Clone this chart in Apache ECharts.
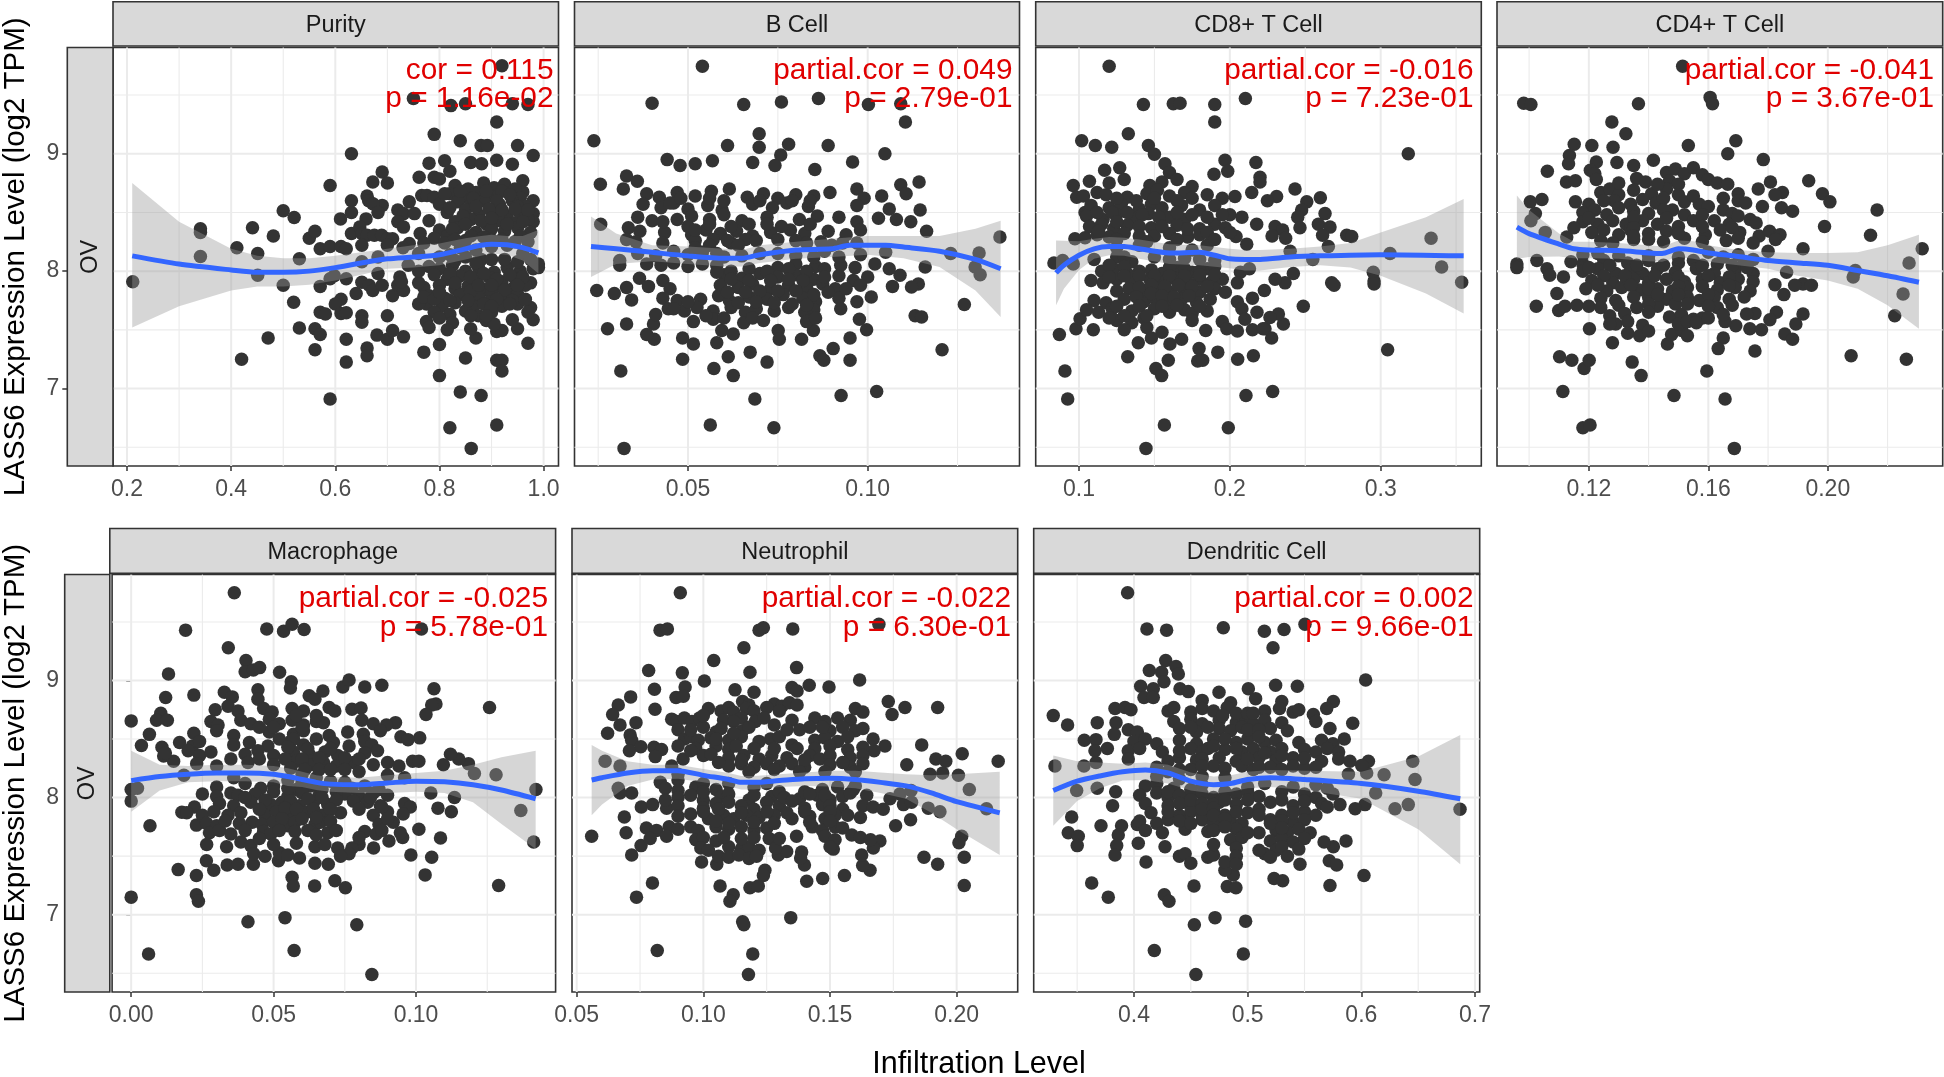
<!DOCTYPE html>
<html><head><meta charset="utf-8"><style>html,body{margin:0;padding:0;background:#fff}#c{width:1944px;height:1077px}</style>
<script src="https://cdn.jsdelivr.net/npm/echarts@6/dist/echarts.min.js"></script></head><body><div id="c"></div>
<script>
const purityPoints=[[.211,7.91],[.341,8.36],[.341,8.33],[.341,8.125],[.411,8.2],[.441,8.37],[.451,8.15],[.451,7.965],[.481,8.3],[.5,8.515],[.521,8.457],[.5,7.88],[.531,8.105],[.55,8.28],[.561,8.34],[.571,8.19],[.59,8.21],[.611,8.21],[.621,8.19],[.59,8.73],[.631,9],[.61,8.445],[.631,8.6],[.631,8.5],[.631,8.32],[.661,8.64],[.664,8.6],[.69,8.56],[.672,8.575],[.682,8.5],[.659,8.445],[.647,8.375],[.672,8.76],[.69,8.845],[.7,8.75],[.651,8.32],[.661,8.305],[.675,8.305],[.689,8.305],[.7,8.275],[.71,8.275],[.651,8.22],[.7,8.22],[.571,7.87],[.59,7.935],[.598,7.96],[.621,7.935],[.611,7.76],[.6,7.72],[.611,7.64],[.621,7.645],[.571,7.65],[.581,7.635],[.52,7.735],[.531,7.515],[.561,7.51],[.571,7.46],[.561,7.33],[.471,7.43],[.42,7.25],[.621,7.42],[.621,7.225],[.661,7.345],[.661,7.28],[.59,6.91],[.651,7.62],[.651,7.565],[.64,7.81],[.651,7.905],[.665,7.88],[.672,7.835],[.69,7.88],[.682,7.98],[.651,8.08],[.682,8.12],[.7,7.62],[.71,7.79],[.724,7.95],[.72,7.88],[.731,7.835],[.727,7.91],[.68,7.455],[.7,7.42],[.71,7.495],[.731,7.44],[.72,8.52],[.742,8.59],[.731,8.49],[.752,8.49],[.72,8.42],[.731,8.375],[.742,8.235],[.763,8.32],[.761,8.8],[.78,8.92],[.79,9.165],[.75,9.47],[.766,8.645],[.776,8.645],[.79,8.63],[.78,8.43],[.77,7.31],[.8,7.375],[.8,7.11],[.84,6.97],[.82,6.665],[.861,6.49],[.88,6.94],[.91,6.69],[.85,7.26],[.91,7.24],[.92,7.24],[.92,7.15],[.97,7.385],[.91,7.485],[.92,7.495],[.87,7.43],[.86,7.51],[.95,7.51],[.94,7.585],[.98,7.585],[.822,9.41],[.85,9.425],[.94,9.425],[.97,9.42],[.92,9.75],[.91,9.27],[.84,9.11],[.88,9.07],[.892,9.07],[.95,9.07],[.98,8.985],[.81,8.94],[.86,8.925],[.881,8.915],[.91,8.945],[.94,8.91],[.82,8.85],[.79,8.8],[.8,8.785],[.96,8.77],[.96,8.675],[.98,8.6],[.98,8.49],[.98,8.42],[.99,8.03],[.99,8.06],[.98,8.02],
[.83,8.73],[.855,8.7],[.885,8.75],[.905,8.71],[.925,8.74],[.945,8.7],[.82,8.66],[.845,8.63],[.87,8.67],[.9,8.64],[.92,8.68],[.955,8.62],[.8,8.57],[.835,8.59],[.86,8.56],[.885,8.6],[.915,8.57],[.94,8.6],[.965,8.55],[.815,8.5],[.85,8.52],[.875,8.48],[.905,8.51],[.93,8.47],[.955,8.49],[.83,8.42],[.86,8.44],[.89,8.4],[.915,8.43],[.945,8.41],[.97,8.44],[.8,8.35],[.835,8.37],[.87,8.33],[.9,8.36],[.925,8.34],[.95,8.37],[.975,8.33],[.79,8.28],[.815,8.3],[.85,8.26],[.885,8.29],[.92,8.27],[.955,8.3],[.77,8.24],[.84,8.2],[.87,8.18],[.9,8.21],[.96,8.15],[.8,8.02],[.825,8.05],[.85,8.0],[.875,8.03],[.905,7.99],[.93,8.03],[.955,8.0],[.815,7.93],[.84,7.96],[.87,7.92],[.895,7.95],[.92,7.91],[.945,7.94],[.975,7.9],[.77,7.86],[.8,7.88],[.83,7.85],[.855,7.87],[.885,7.84],[.91,7.87],[.94,7.85],[.965,7.88],[.78,7.79],[.81,7.77],[.84,7.8],[.875,7.78],[.9,7.81],[.925,7.77],[.95,7.8],[.775,7.72],[.805,7.7],[.83,7.73],[.865,7.7],[.895,7.74],[.92,7.7],[.95,7.72],[.975,7.69],[.79,7.65],[.82,7.63],[.85,7.66],[.875,7.62],[.9,7.65],[.97,7.65],[.775,7.57],[.8,7.6],[.825,7.56],[.89,7.58],[.905,7.55],[.78,7.52],[.815,7.5],[.76,7.72],[.77,7.78],[.76,7.9],[.78,8.04],[.8,8.12],[.83,8.09],[.88,8.1],
[.81,8.66],[.84,8.68],[.865,8.62],[.89,8.68],[.91,8.6],[.935,8.65],[.95,8.55],[.82,8.54],[.845,8.47],[.87,8.55],[.895,8.53],[.92,8.52],[.945,8.53],[.97,8.52],[.825,8.36],[.85,8.4],[.88,8.43],[.9,8.45],[.93,8.4],[.96,8.42],[.81,8.24],[.83,8.27],[.86,8.3],[.9,8.27],[.93,8.22],[.945,8.25],[.97,8.25],[.82,8.14],[.85,8.12],[.87,8.07],[.9,8.1],[.925,8.1],[.95,8.08],[.975,8.1],[.79,7.97],[.82,7.98],[.86,7.95],[.885,7.98],[.91,7.93],[.935,7.97],[.96,7.95],[.83,7.9],[.86,7.83],[.875,7.88],[.9,7.88],[.925,7.84],[.95,7.88],[.79,7.76],[.82,7.75],[.855,7.75],[.885,7.72],[.91,7.76],[.94,7.75],[.965,7.76],[.8,7.82],[.9,7.7],[.935,7.72],[.86,7.62],[.89,7.62],[.73,8.2],[.76,8.15],[.74,8.05],[.76,8]];
const bcellPoints=[[.054,9.745],[.04,9.43],[.0655,9.42],[.076,9.44],[.0863,9.47],[.1002,9.42],[.1092,9.425],[.1105,9.27],[.0238,9.11],[.0698,9.17],[.0698,9.055],[.061,9.07],[.078,9.08],[.089,9.07],[.1048,9],[.0958,8.93],[.0442,8.95],[.0478,8.9],[.052,8.915],[.0568,8.94],[.068,8.925],[.0758,8.99],[.0742,8.9],[.0853,8.865],[.1143,8.76],[.1092,8.735],[.1107,8.66],[.1039,8.64],[.0256,8.74],[.0329,8.81],[.032,8.7],[.0359,8.765],[.0257,8.4],[.0334,8.37],[.0366,8.34],[.0329,8.27],[.031,8.09],[.031,8.05],[.0246,7.835],[.0295,7.81],[.0329,7.86],[.0343,7.755],[.0276,7.51],[.0329,7.55],[.0313,7.15],[.0322,6.49],[.0562,6.69],[.0739,6.665],[.0686,6.91],[.0926,6.94],[.1025,6.975],[.1207,7.33],[.1269,7.715],[.1132,7.62],[.115,7.61],[.1368,8.29],[.131,8.155],[.1299,8.035],[.1313,7.97],[.1231,8.15],[.1164,8.34],[.1146,8.52],[.116,8.035],[.1141,7.89],[.1122,7.865],[.109,7.965],[.1069,7.87],[.0485,7.25],[.0572,7.17],[.0626,7.11],[.0612,7.27],[.0673,7.31],[.072,7.225],[.0867,7.28],[.0878,7.24],[.0904,7.34],[.0951,7.24],[.0951,7.43],[.0997,7.5],[.0977,7.59],[.0816,7.42],[.0751,7.495],[.0754,7.42],[.058,7.39],[.0515,7.38],[.0485,7.43],[.0406,7.42],[.0385,7.46],[.0626,7.465],[.0594,7.495],[.0404,7.55],[.041,7.63],[.0849,7.495],
[.0385,8.66],[.042,8.63],[.047,8.67],[.052,8.64],[.0565,8.68],[.0615,8.7],[.0665,8.63],[.071,8.66],[.075,8.62],[.08,8.65],[.085,8.64],[.0895,8.67],[.097,8.7],[.099,8.62],[.0375,8.57],[.0425,8.54],[.046,8.58],[.05,8.53],[.0555,8.56],[.0595,8.52],[.068,8.57],[.0735,8.54],[.0775,8.58],[.0835,8.55],[.097,8.56],[.106,8.53],[.036,8.46],[.04,8.43],[.051,8.47],[.056,8.44],[.06,8.48],[.065,8.43],[.072,8.46],[.081,8.44],[.086,8.47],[.092,8.46],[.097,8.42],[.103,8.45],[.108,8.44],[.112,8.42],[.0435,8.33],[.051,8.31],[.055,8.35],[.059,8.32],[.0635,8.34],[.068,8.3],[.073,8.33],[.0785,8.35],[.0825,8.32],[.089,8.34],[.094,8.31],[.098,8.35],[.0355,8.25],[.043,8.24],[.052,8.26],[.057,8.27],[.062,8.24],[.066,8.27],[.08,8.26],[.087,8.25],[.093,8.24],[.036,8.15],[.041,8.13],[.046,8.17],[.05,8.14],[.054,8.16],[.06,8.12],[.07,8.15],[.08,8.13],[.088,8.17],[.098,8.14],[.105,8.16],[.0385,8.06],[.0425,8.05],[.046,8.07],[.05,8.04],[.054,8.06],[.058,8.05],[.075,8.03],[.08,8.06],[.0855,8.04],[.0925,8.05],[.0965,8.03],[.102,8.06],[.106,8.02],[.0365,7.94],[.043,7.92],[.06,7.97],[.065,7.94],[.07,7.98],[.075,7.95],[.08,7.97],[.085,7.93],[.092,7.96],[.096,7.92],[.1,7.95],[.039,7.87],[.045,7.85],[.059,7.88],[.064,7.86],[.068,7.89],[.073,7.85],[.078,7.88],[.083,7.86],[.0875,7.89],[.091,7.85],[.043,7.77],[.047,7.75],[.0535,7.76],[.0585,7.79],[.0615,7.75],[.067,7.78],[.072,7.76],[.0765,7.8],[.082,7.77],[.0855,7.74],[.092,7.77],[.097,7.74],[.101,7.78],[.0445,7.68],[.049,7.66],[.0525,7.69],[.057,7.66],[.062,7.69],[.066,7.65],[.069,7.68],[.074,7.66],[.078,7.69],[.0825,7.65],[.085,7.67],[.0925,7.68],[.0515,7.57],[.057,7.59],[.0655,7.56],[.068,7.6],[.071,7.58],[.083,7.57],[.0855,7.6],
[.05,8.38],[.056,8.4],[.062,8.38],[.067,8.4],[.076,8.38],[.084,8.4],[.052,8.2],[.056,8.22],[.061,8.26],[.064,8.22],[.069,8.26],[.075,8.27],[.083,8.24],[.09,8.22],[.097,8.24],[.058,8.15],[.065,8.13],[.075,8.15],[.085,8.12],[.092,8.12],[.058,7.99],[.062,8],[.067,8.02],[.072,8],[.078,8.02],[.083,8],[.088,8.02],[.062,7.93],[.067,7.92],[.073,7.92],[.078,7.93],[.082,7.92],[.088,7.95],[.061,7.82],[.066,7.82],[.07,7.83],[.075,7.83],[.08,7.83],[.085,7.8],[.089,7.82],[.064,7.73],[.069,7.74],[.074,7.73],[.079,7.72],[.083,7.71],[.045,8.58],[.048,8.62],[.056,8.62],[.06,8.6],[.07,8.6],[.079,8.6],[.084,8.6],[.047,8.44],[.043,8.42],[.052,8.35],[.072,8.4],[.046,7.68],[.05,7.74],[.055,7.62],[.06,7.6],[.094,7.85],[.098,7.88]];
const cd8Points=[[.12,9.745],[.1427,9.42],[.1625,9.425],[.167,9.43],[.19,9.42],[.2103,9.47],[.19,9.27],[.1327,9.17],[.1018,9.11],[.1108,9.07],[.1217,9.055],[.146,9.07],[.15,8.995],[.3183,9],[.157,8.915],[.1968,8.945],[.1986,8.85],[.2173,8.925],[.1895,8.825],[.22,8.8],[.22,8.76],[.2432,8.7],[.26,8.625],[.251,8.59],[.2476,8.52],[.245,8.46],[.2465,8.37],[.2631,8.49],[.2587,8.4],[.2664,8.375],[.2615,8.305],[.2775,8.305],[.2808,8.295],[.2653,8.21],[.3334,8.28],[.3062,8.15],[.3404,8.035],[.3537,7.905],[.2951,7.99],[.2956,7.915],[.2956,7.89],[.2675,7.9],[.2691,7.88],[.2487,7.7],[.3046,7.33],[.2284,6.975],[.2107,6.94],[.199,6.665],[.1566,6.69],[.1444,6.49],[.0925,6.91],[.0907,7.15],[.087,7.46],[.098,7.51],[.1095,7.5],[.1007,7.595],[.0834,8.07],[.0892,8.09],[.0962,8.06],[.1323,7.27],[.151,7.17],[.1548,7.11],[.1592,7.24],[.1787,7.235],[.182,7.24],[.1796,7.34],[.192,7.31],[.2052,7.25],[.2156,7.28],[.2277,7.43],[.2233,7.51],[.1603,7.38],[.168,7.42],[.1393,7.39],[.0962,8.73],[.1069,8.765],[.0985,8.63],[.104,8.5],[.0973,8.275],[.104,8.285],[.184,7.495],[.2421,7.98],[.2366,7.9],[.23,7.93],[.2229,7.835],[.231,8.635],[.2249,8.6],[.2145,8.67],[.2034,8.635],[.2178,8.4],[.2112,8.23],[.2041,8.295],[.2355,7.55],[.2322,7.635],[.2266,7.605],
[.117,8.86],[.127,8.88],[.16,8.84],[.12,8.75],[.13,8.78],[.147,8.73],[.155,8.76],[.165,8.78],[.175,8.72],[.103,8.64],[.112,8.67],[.132,8.63],[.145,8.66],[.152,8.69],[.16,8.64],[.17,8.67],[.185,8.65],[.195,8.62],[.108,8.56],[.12,8.54],[.128,8.57],[.14,8.53],[.148,8.57],[.155,8.54],[.168,8.56],[.18,8.52],[.19,8.56],[.105,8.47],[.116,8.44],[.125,8.48],[.137,8.45],[.146,8.49],[.16,8.46],[.17,8.44],[.2,8.48],[.208,8.46],[.107,8.38],[.115,8.4],[.123,8.36],[.132,8.39],[.148,8.37],[.165,8.39],[.18,8.36],[.19,8.4],[.197,8.37],[.23,8.38],[.235,8.35],[.112,8.31],[.12,8.29],[.13,8.32],[.15,8.3],[.16,8.32],[.172,8.29],[.18,8.31],[.228,8.3],[.237,8.28],[.125,8.2],[.14,8.22],[.16,8.2],[.175,8.18],[.185,8.22],[.24,8.17],[.11,8.1],[.125,8.12],[.135,8.08],[.17,8.11],[.19,8.09],[.255,8.1],[.115,8],[.123,8.02],[.132,7.98],[.148,8.01],[.155,7.98],[.165,8.03],[.175,7.99],[.185,8.02],[.207,7.99],[.213,8.02],[.108,7.92],[.116,7.9],[.125,7.93],[.135,7.9],[.147,7.93],[.155,7.91],[.163,7.94],[.172,7.9],[.18,7.93],[.188,7.91],[.195,7.93],[.205,7.9],[.125,7.83],[.133,7.85],[.145,7.82],[.152,7.85],[.16,7.82],[.17,7.84],[.18,7.82],[.19,7.85],[.197,7.82],[.11,7.75],[.118,7.73],[.13,7.76],[.143,7.74],[.15,7.77],[.158,7.74],[.168,7.76],[.178,7.73],[.187,7.76],[.205,7.74],[.215,7.77],[.105,7.67],[.113,7.65],[.122,7.68],[.135,7.66],[.15,7.68],[.16,7.65],[.17,7.67],[.175,7.64],[.185,7.66],[.208,7.68],[.218,7.65],[.125,7.58],[.135,7.56],[.143,7.6],[.175,7.58],[.195,7.57],[.21,7.59],[.13,7.5],[.145,7.52],[.155,7.48],[.198,7.51],[.205,7.49],[.215,7.5],[.222,7.51],[.148,7.43],
[.118,8.65],[.125,8.62],[.138,8.6],[.15,8.62],[.165,8.6],[.175,8.62],[.112,8.5],[.122,8.5],[.132,8.5],[.142,8.48],[.153,8.46],[.165,8.5],[.175,8.48],[.185,8.46],[.195,8.48],[.113,8.34],[.125,8.42],[.14,8.38],[.155,8.38],[.172,8.36],[.185,8.33],[.2,8.33],[.125,8.27],[.14,8.3],[.145,8.25],[.165,8.27],[.19,8.27],[.13,8.12],[.15,8.12],[.16,8.1],[.18,8.1],[.12,8.05],[.13,8.04],[.14,8],[.16,8.03],[.17,8.02],[.18,8],[.19,8.04],[.12,7.95],[.13,7.96],[.14,7.96],[.15,7.96],[.16,7.96],[.17,7.96],[.18,7.97],[.19,7.97],[.14,7.86],[.148,7.88],[.157,7.87],[.166,7.88],[.175,7.87],[.185,7.87],[.138,7.78],[.148,7.81],[.155,7.79],[.163,7.78],[.173,7.79],[.125,7.7],[.14,7.7],[.155,7.7],[.165,7.71],[.18,7.7],[.12,7.6],[.13,7.62],[.145,7.62]];
const cd4Points=[[.1514,9.745],[.0982,9.43],[.1006,9.42],[.1366,9.425],[.1606,9.48],[.1614,9.425],[.1277,9.27],[.1324,9.17],[.1692,9.11],[.1533,9.07],[.1151,9.08],[.121,9.07],[.1281,9.055],[.1665,9],[.1135,8.985],[.1132,8.915],[.1061,8.85],[.1416,8.945],[.135,8.9],[.1294,8.925],[.1225,8.93],[.1784,8.95],[.1808,8.76],[.1936,8.77],[.1767,8.7],[.1848,8.67],[.1823,8.65],[.1982,8.66],[.2007,8.59],[.1781,8.55],[.1845,8.54],[.1882,8.51],[.2165,8.52],[.1989,8.38],[.2143,8.305],[.2316,8.19],[.2272,8.07],[.2252,7.805],[.2224,7.62],[.2085,7.95],[.2092,8.005],[.2078,7.28],[.2263,7.25],[.1862,7.99],[.1917,8.19],[.1823,7.885],[.1853,7.8],[.1917,7.89],[.1945,7.88],[.1889,7.88],[.1917,7.635],[.1893,7.55],[.1856,7.465],[.1882,7.42],[.1828,7.65],[.1806,7.585],[.1739,7.51],[.1778,7.5],[.1756,7.64],[.1756,7.32],[.165,7.43],[.1633,7.34],[.1595,7.15],[.1656,6.91],[.1485,6.94],[.1687,6.49],[.118,6.665],[.1204,6.69],[.1113,6.975],[.1184,7.17],[.1201,7.24],[.1143,7.24],[.1102,7.27],[.1279,7.39],[.1375,7.11],[.1345,7.225],[.1202,7.51],[.1024,7.7],[.1099,7.665],[.1093,7.81],[.1026,8.09],[.0959,8.06],[.0959,8.03],[.106,8.02],[.1069,7.965],[.1115,7.95],[.1004,8.59],[.1043,8.61],[.1021,8.49],[.1006,8.43],[.1054,8.33],[.1126,8.29],[.1463,7.38],[.1477,7.46],[.1511,7.495],[.153,7.45],[.1728,7.635],[.1692,7.535],[.1656,7.57],
[.1205,8.86],[.122,8.83],[.146,8.84],[.149,8.87],[.152,8.83],[.155,8.88],[.158,8.82],[.1125,8.76],[.1155,8.77],[.1225,8.78],[.136,8.79],[.139,8.76],[.147,8.77],[.15,8.74],[.16,8.78],[.163,8.75],[.1665,8.74],[.124,8.67],[.127,8.7],[.13,8.65],[.135,8.69],[.141,8.66],[.146,8.7],[.15,8.65],[.17,8.66],[.1155,8.59],[.12,8.57],[.1285,8.6],[.134,8.57],[.138,8.61],[.1425,8.58],[.152,8.59],[.157,8.57],[.17,8.6],[.1725,8.58],[.118,8.5],[.122,8.52],[.126,8.48],[.135,8.51],[.14,8.49],[.148,8.52],[.152,8.48],[.165,8.52],[.168,8.49],[.118,8.42],[.123,8.4],[.128,8.43],[.1325,8.4],[.138,8.43],[.143,8.4],[.162,8.43],[.167,8.4],[.174,8.44],[.176,8.41],[.121,8.33],[.125,8.35],[.13,8.31],[.134,8.35],[.14,8.32],[.146,8.34],[.159,8.31],[.164,8.35],[.1705,8.33],[.177,8.3],[.1805,8.34],[.184,8.31],[.124,8.26],[.128,8.24],[.14,8.27],[.145,8.25],[.152,8.28],[.158,8.25],[.166,8.26],[.175,8.24],[.1825,8.27],[.123,8.15],[.14,8.13],[.16,8.16],[.17,8.14],[.18,8.17],[.114,8.08],[.118,8.06],[.125,8.09],[.133,8.07],[.14,8.09],[.15,8.07],[.155,8.09],[.163,8.06],[.172,8.08],[.118,8],[.123,8.02],[.129,7.98],[.134,8.01],[.138,7.98],[.143,8.02],[.149,7.99],[.156,8.02],[.162,7.98],[.169,8.01],[.175,7.98],[.121,7.92],[.128,7.9],[.135,7.93],[.14,7.9],[.146,7.93],[.152,7.91],[.158,7.93],[.164,7.9],[.17,7.93],[.175,7.91],[.119,7.85],[.126,7.83],[.131,7.86],[.137,7.84],[.143,7.85],[.148,7.83],[.153,7.86],[.163,7.84],[.169,7.86],[.174,7.83],[.124,7.77],[.129,7.75],[.14,7.78],[.146,7.76],[.153,7.78],[.157,7.75],[.162,7.78],[.167,7.76],[.112,7.7],[.116,7.71],[.12,7.7],[.124,7.69],[.13,7.71],[.136,7.69],[.143,7.7],[.149,7.72],[.163,7.69],[.168,7.71],[.127,7.62],[.132,7.64],[.147,7.61],[.151,7.63],[.155,7.59],[.158,7.6],[.165,7.63],[.129,7.55],[.133,7.57],[.138,7.54],[.15,7.55],[.153,7.57],[.156,7.56],[.133,7.47],[.137,7.45],[.14,7.49],
[.13,8.75],[.143,8.74],[.125,8.6],[.145,8.62],[.155,8.64],[.165,8.62],[.13,8.54],[.145,8.52],[.16,8.55],[.12,8.45],[.135,8.46],[.146,8.45],[.155,8.43],[.158,8.48],[.17,8.47],[.115,8.37],[.135,8.37],[.15,8.38],[.158,8.38],[.168,8.37],[.135,8.27],[.135,8.3],[.15,8.32],[.17,8.28],[.118,8.14],[.13,8.13],[.15,8.12],[.165,8.12],[.175,8.1],[.12,8.03],[.127,8.05],[.136,8.05],[.145,8.05],[.158,8.05],[.168,8.05],[.125,7.96],[.132,7.96],[.142,7.96],[.15,7.95],[.16,7.96],[.167,7.95],[.173,8.03],[.123,7.88],[.134,7.88],[.14,7.85],[.15,7.87],[.158,7.87],[.167,7.88],[.135,7.78],[.143,7.8],[.15,7.8],[.16,7.8],[.172,7.78],[.14,7.72],[.153,7.72],[.16,7.7],[.14,7.65],[.127,7.55],[.16,7.6]];
const macroPoints=[[.0362,9.75],[.0191,9.43],[.0476,9.44],[.0535,9.42],[.0565,9.48],[.0607,9.435],[.1019,9.44],[.0341,9.28],[.0403,9.17],[.04,9.075],[.0429,9.09],[.0451,9.11],[.0131,9.055],[.0521,9.07],[.0562,8.99],[.0559,8.935],[.0121,8.855],[.022,8.875],[.0327,8.9],[.0445,8.92],[.0673,8.91],[.0743,8.945],[.0765,9.005],[.082,8.945],[.088,8.96],[.1063,8.93],[.1258,8.77],[.107,8.8],[.1055,8.79],[.1035,8.71],[0,8.655],[.0104,8.72],[.0089,8.66],[.0127,8.66],[.0064,8.54],[.0036,8.445],[0,8.07],[.0022,8.08],[0,7.97],[.0066,7.76],[0,7.15],[.0061,6.665],[.041,6.94],[.054,6.975],[.0792,6.915],[.0572,6.695],[.0845,6.49],[.129,7.25],[.1032,7.34],[.0982,7.51],[.1055,7.49],[.1086,7.655],[.1413,7.62],[.1368,7.89],[.1421,8.07],[.1281,8.195],[.1205,8.205],[.1184,8.29],[.115,8.33],[.1121,8.37],[.1096,8.28],[.1135,8],[.1124,7.88],[.1077,7.91],[.1052,8.04],[.101,7.73],[.1013,8.51],[.0988,8.31],[.101,8.31],[.0165,7.385],[.0229,7.335],[.0229,7.17],[.0236,7.115],[.029,7.38],[.0264,7.46],[.0337,7.425],[.0375,7.43],[.0429,7.43],[.0565,7.32],[.0569,7.245],[.0644,7.245],[.0715,7.29],[.0752,7.23],[.0645,7.44],[.0692,7.43],[.0517,7.46],[.0591,7.485],[.0178,7.875],[.0222,7.92],[.0229,7.765],[.0108,8.43],[.0114,8.355],[.0149,8.31],[.0851,7.57],[.0905,7.63],[.0953,7.66],[.0928,8.64],[.0896,8.62],[.0947,8.52],[.0972,8.495],[.0775,8.755],[.0807,8.765],
[.0355,8.86],[.0445,8.84],[.0625,8.87],[.0645,8.84],[.0295,8.75],[.034,8.78],[.0375,8.74],[.0465,8.76],[.0495,8.73],[.0565,8.76],[.0605,8.74],[.0695,8.77],[.0715,8.74],[.028,8.65],[.0305,8.62],[.0385,8.66],[.042,8.63],[.0485,8.67],[.052,8.63],[.0565,8.66],[.0605,8.62],[.065,8.65],[.0675,8.64],[.081,8.66],[.085,8.63],[.022,8.55],[.03,8.57],[.036,8.53],[.0485,8.56],[.057,8.54],[.0605,8.57],[.0695,8.53],[.076,8.56],[.0815,8.54],[.0875,8.57],[.017,8.47],[.0215,8.44],[.024,8.48],[.036,8.45],[.0415,8.47],[.048,8.44],[.056,8.48],[.0605,8.45],[.071,8.47],[.0765,8.44],[.082,8.48],[.0845,8.45],[.012,8.38],[.02,8.4],[.024,8.36],[.028,8.39],[.04,8.37],[.0445,8.4],[.05,8.36],[.057,8.39],[.0625,8.37],[.068,8.39],[.0725,8.36],[.082,8.38],[.0865,8.4],[.023,8.29],[.03,8.27],[.041,8.3],[.05,8.28],[.058,8.31],[.063,8.28],[.0675,8.3],[.072,8.27],[.078,8.3],[.085,8.28],[.09,8.3],[.094,8.27],[.0185,8.19],[.036,8.17],[.06,8.2],[.065,8.17],[.09,8.19],[.096,8.17],[.03,8.09],[.0455,8.08],[.05,8.1],[.058,8.07],[.063,8.1],[.0775,8.08],[.082,8.1],[.087,8.07],[.025,8.03],[.03,8.01],[.035,8.04],[.0375,8.02],[.0435,8.03],[.055,8.01],[.06,8.04],[.066,8.02],[.075,8.03],[.08,8.01],[.085,8.04],[.09,8.02],[.031,7.95],[.036,7.93],[.042,7.96],[.049,7.94],[.053,7.96],[.059,7.93],[.064,7.96],[.069,7.94],[.083,7.96],[.0875,7.93],[.096,7.95],[.098,7.92],[.0195,7.87],[.025,7.85],[.029,7.88],[.034,7.85],[.0385,7.87],[.047,7.85],[.051,7.88],[.056,7.86],[.062,7.88],[.067,7.85],[.0735,7.87],[.085,7.85],[.09,7.88],[.0955,7.86],[.0265,7.78],[.03,7.76],[.0425,7.79],[.046,7.77],[.05,7.79],[.055,7.76],[.0575,7.79],[.0645,7.77],[.0665,7.79],[.087,7.77],[.092,7.79],[.0275,7.7],[.031,7.72],[.035,7.69],[.0465,7.71],[.049,7.69],[.0575,7.71],[.069,7.7],[.082,7.71],[.086,7.69],[.0945,7.7],[.0265,7.6],[.0335,7.58],[.0385,7.62],[.042,7.59],[.058,7.61],[.0645,7.58],[.068,7.6],[.0725,7.57],[.08,7.6],[.0775,7.57],[.043,7.52],[.047,7.5],[.052,7.53],[.055,7.51],[.0765,7.52],[.0735,7.5],
[.045,8.6],[.05,8.6],[.06,8.6],[.058,8.7],[.065,8.7],[.052,8.5],[.057,8.5],[.065,8.5],[.055,8.43],[.062,8.42],[.07,8.42],[.035,8.33],[.045,8.33],[.054,8.33],[.06,8.33],[.066,8.34],[.075,8.34],[.08,8.33],[.056,8.25],[.061,8.24],[.066,8.24],[.07,8.24],[.075,8.24],[.08,8.22],[.055,8.15],[.06,8.13],[.07,8.14],[.075,8.13],[.04,8.12],[.05,8.05],[.055,8.08],[.06,8.07],[.067,8.07],[.072,8.05],[.04,8],[.047,7.98],[.056,7.97],[.062,7.99],[.067,8],[.072,7.98],[.078,7.97],[.084,8],[.045,7.9],[.054,7.91],[.058,7.9],[.064,7.9],[.07,7.9],[.08,7.9],[.088,7.92],[.033,7.8],[.038,7.78],[.053,7.82],[.06,7.82],[.065,7.83],[.07,7.8],[.09,7.82],[.04,7.72],[.052,7.72],[.062,7.72],[.065,7.68],[.072,7.72],[.08,7.66],[.05,7.6],[.045,7.65],[.088,7.72]];
const neutroPoints=[[.0909,9.75],[.0829,9.43],[.0858,9.44],[.122,9.43],[.1237,9.45],[.1353,9.44],[.1693,9.48],[.116,9.28],[.1041,9.17],[.1368,9.11],[.0784,9.085],[.0917,9.065],[.1184,9.07],[.1004,8.995],[.1617,9.005],[.1418,8.96],[.1496,8.945],[.0807,8.925],[.0928,8.945],[.0892,8.855],[.0921,8.865],[.0713,8.86],[.0664,8.79],[.0642,8.71],[.0809,8.755],[.0622,8.55],[.0671,8.62],[.0734,8.64],[.0711,8.535],[.0717,8.49],[.0753,8.435],[.0708,8.4],[.0612,8.31],[.0671,8.27],[.0559,7.67],[.0695,7.7],[.0688,7.835],[.0717,8.04],[.0664,8.08],[.0671,8.04],[.0754,7.59],[.0717,7.51],[.0799,7.27],[.0736,7.15],[.0818,6.695],[.1155,6.94],[.116,6.915],[.1345,6.975],[.1195,6.665],[.1178,6.49],[.203,7.25],[.203,7.49],[.1925,7.43],[.1871,7.49],[.202,7.67],[.2009,7.615],[.1818,7.81],[.1759,7.76],[.2164,8.31],[.2022,8.375],[.1862,8.45],[.1918,8.33],[.1957,8.31],[.2007,8.19],[.1945,8.21],[.1895,8.2],[.205,8.07],[.2118,7.905],[.1934,7.88],[.1888,7.91],[.1803,8.28],[.1925,8.77],[.1796,8.77],[.173,8.82],[.1745,8.71],[.1717,8.44],[.1674,8.4],[.182,8.06],[.1776,8.03],[.1737,7.99],[.179,7.94],[.1822,7.96],[.1658,7.38],[.1629,7.42],[.1625,7.51],[.1557,7.335],[.1471,7.31],[.1408,7.285],[.1399,7.425],[.1388,7.535],[.1384,7.485],[.1066,7.245],[.1118,7.17],[.1105,7.115],[.1184,7.23],[.1217,7.245],[.1243,7.38],[.1237,7.335],[.0993,7.45],[.1053,7.43],[.1697,7.63],[.1671,7.57],[.1296,7.51],[.1329,7.54],[.1592,8.07],[.1645,8.02],[.1368,7.67],[.1513,7.56],[.1586,7.68],
[.1155,8.82],[.118,8.79],[.128,8.8],[.131,8.78],[.134,8.81],[.137,8.79],[.1125,8.92],[.12,8.9],[.135,8.94],[.137,8.91],[.102,8.76],[.107,8.74],[.11,8.77],[.112,8.73],[.117,8.76],[.12,8.74],[.125,8.77],[.13,8.74],[.16,8.76],[.163,8.73],[.0875,8.67],[.0895,8.65],[.0925,8.68],[.0955,8.65],[.0985,8.68],[.108,8.66],[.115,8.68],[.1205,8.65],[.124,8.68],[.135,8.66],[.144,8.68],[.148,8.65],[.153,8.68],[.158,8.66],[.09,8.58],[.1,8.6],[.105,8.56],[.107,8.59],[.1155,8.57],[.118,8.6],[.138,8.58],[.142,8.6],[.15,8.57],[.155,8.6],[.16,8.57],[.163,8.59],[.0925,8.5],[.095,8.52],[.098,8.49],[.103,8.51],[.11,8.49],[.115,8.52],[.1265,8.5],[.13,8.52],[.144,8.49],[.148,8.51],[.153,8.48],[.157,8.52],[.167,8.5],[.0805,8.43],[.0835,8.41],[.09,8.44],[.097,8.42],[.105,8.44],[.11,8.41],[.113,8.44],[.144,8.42],[.15,8.44],[.157,8.41],[.163,8.43],[.081,8.35],[.092,8.33],[.1,8.36],[.11,8.34],[.116,8.36],[.122,8.33],[.127,8.36],[.133,8.34],[.142,8.36],[.146,8.33],[.15,8.36],[.158,8.34],[.163,8.36],[.11,8.27],[.115,8.29],[.12,8.26],[.125,8.29],[.13,8.27],[.135,8.29],[.14,8.26],[.15,8.28],[.158,8.26],[.163,8.29],[.0875,8.27],[.083,8.13],[.09,8.15],[.11,8.12],[.085,8.08],[.09,8.06],[.097,8.09],[.105,8.07],[.12,8.09],[.147,8.07],[.153,8.09],[.09,8],[.095,8.02],[.1,7.98],[.107,8.01],[.118,7.98],[.127,8.01],[.138,7.99],[.145,8.02],[.15,7.98],[.155,8.01],[.0755,7.92],[.08,7.94],[.0855,7.91],[.09,7.93],[.1,7.91],[.115,7.93],[.12,7.9],[.13,7.93],[.14,7.91],[.147,7.94],[.155,7.9],[.163,7.93],[.167,7.92],[.171,7.9],[.09,7.84],[.102,7.82],[.108,7.85],[.112,7.82],[.117,7.85],[.122,7.83],[.128,7.85],[.135,7.82],[.142,7.84],[.148,7.82],[.152,7.85],[.162,7.83],[.0775,7.74],[.0815,7.72],[.0865,7.75],[.09,7.73],[.095,7.75],[.098,7.72],[.105,7.75],[.11,7.73],[.115,7.75],[.12,7.72],[.125,7.74],[.143,7.75],[.147,7.72],[.152,7.75],[.079,7.65],[.0855,7.67],[.097,7.64],[.1,7.66],[.105,7.63],[.126,7.65],[.148,7.67],[.152,7.64],[.162,7.66],[.166,7.64],[.099,7.57],[.102,7.55],[.11,7.58],[.115,7.56],[.118,7.58],[.122,7.55],[.1285,7.57],[.15,7.58],[.106,7.5],[.11,7.49],[.114,7.51],[.118,7.48],[.121,7.5],
[.1,8.7],[.112,8.65],[.128,8.62],[.133,8.58],[.147,8.6],[.095,8.58],[.112,8.55],[.122,8.48],[.135,8.45],[.105,8.5],[.12,8.42],[.128,8.42],[.137,8.42],[.095,8.4],[.103,8.37],[.106,8.3],[.115,8.32],[.14,8.32],[.155,8.3],[.118,8.22],[.128,8.24],[.138,8.22],[.148,8.22],[.16,8.22],[.09,8.2],[.1,8.12],[.125,8.12],[.13,8.05],[.14,8.05],[.16,8.1],[.1,8.05],[.11,8.03],[.12,8.02],[.132,8],[.142,8.03],[.148,8.02],[.158,8.04],[.085,7.98],[.105,7.95],[.11,7.96],[.125,7.96],[.135,7.97],[.15,7.93],[.095,7.86],[.1,7.88],[.106,7.9],[.115,7.87],[.125,7.88],[.133,7.87],[.14,7.88],[.15,7.88],[.157,7.85],[.105,7.8],[.11,7.78],[.12,7.79],[.128,7.78],[.142,7.79],[.15,7.8],[.155,7.74],[.108,7.66],[.115,7.65],[.12,7.66],[.13,7.65]];
const dendPoints=[[.3944,9.75],[.4114,9.44],[.4287,9.43],[.4786,9.45],[.5147,9.42],[.532,9.435],[.5504,9.48],[.5223,9.28],[.4279,9.17],[.437,9.12],[.439,9.055],[.4135,9.085],[.4243,9.07],[.4264,8.99],[.4059,8.95],[.4088,8.855],[.417,8.93],[.417,8.855],[.6038,9.005],[.5246,8.96],[.5437,8.95],[.5006,8.93],[.507,8.845],[.4748,8.9],[.4405,8.93],[.4478,8.905],[.329,8.7],[.3416,8.62],[.3677,8.64],[.3833,8.76],[.3921,8.77],[.3974,8.75],[.3842,8.64],[.3827,8.54],[.3563,8.49],[.3666,8.495],[.3657,8.4],[.3766,8.42],[.3305,8.27],[.356,8.27],[.3666,8.3],[.3677,8.08],[.3496,8.06],[.3839,8.05],[.3812,7.93],[.3452,7.835],[.371,7.76],[.3422,7.7],[.351,7.67],[.3501,7.59],[.3891,7.76],[.3862,7.68],[.3848,7.59],[.3833,7.51],[.4029,7.77],[.4038,7.61],[.4273,7.58],[.4106,7.45],[.3628,7.27],[.3774,7.15],[.4267,7.17],[.4308,7.115],[.4528,7.245],[.4531,6.915],[.4713,6.975],[.4982,6.945],[.4179,6.695],[.4962,6.665],[.4545,6.49],[.4821,7.24],[.4897,7.23],[.4874,7.34],[.48,7.38],[.5232,7.31],[.5308,7.29],[.5724,7.25],[.6023,7.335],[.5718,7.46],[.5783,7.425],[.546,7.43],[.5865,7.63],[.5754,7.58],[.5672,7.62],[.6868,7.9],[.6472,8.155],[.6452,8.31],[.6413,7.94],[.6296,7.905],[.62,8.195],[.6126,8.04],[.6032,7.94],[.5945,7.905],[.6047,8.21],[.6062,8.31],[.6003,8.275],[.5886,8.2],[.5924,8.635],[.5754,8.82],[.5695,8.76],[.5724,8.59],[.5578,8.71],[.56,8.65],[.5812,7.94],
[.46,8.83],[.485,8.81],[.53,8.82],[.43,8.74],[.435,8.77],[.45,8.73],[.46,8.76],[.47,8.74],[.482,8.77],[.515,8.74],[.528,8.76],[.54,8.73],[.545,8.75],[.435,8.65],[.45,8.67],[.46,8.63],[.475,8.66],[.49,8.64],[.497,8.67],[.505,8.63],[.515,8.66],[.53,8.64],[.395,8.58],[.403,8.56],[.44,8.59],[.455,8.56],[.475,8.59],[.485,8.57],[.495,8.6],[.505,8.56],[.52,8.59],[.535,8.57],[.4,8.48],[.41,8.5],[.42,8.46],[.44,8.49],[.455,8.46],[.47,8.5],[.49,8.47],[.5,8.5],[.515,8.47],[.525,8.49],[.545,8.47],[.565,8.49],[.575,8.46],[.585,8.5],[.395,8.4],[.405,8.42],[.425,8.39],[.45,8.42],[.46,8.39],[.48,8.41],[.495,8.39],[.505,8.42],[.52,8.39],[.55,8.41],[.56,8.39],[.57,8.42],[.58,8.39],[.395,8.33],[.43,8.31],[.44,8.34],[.455,8.32],[.475,8.34],[.49,8.31],[.51,8.34],[.525,8.32],[.54,8.34],[.565,8.31],[.58,8.33],[.59,8.31],[.42,8.26],[.44,8.24],[.47,8.27],[.48,8.25],[.495,8.27],[.505,8.24],[.52,8.26],[.53,8.24],[.54,8.27],[.55,8.25],[.41,8.1],[.42,8.12],[.435,8.08],[.46,8.11],[.5,8.09],[.515,8.12],[.54,8.09],[.56,8.11],[.57,8.08],[.405,8.02],[.42,8.04],[.43,8],[.45,8.03],[.47,8],[.49,8.03],[.51,8.01],[.55,8.03],[.56,8],[.575,8.03],[.41,7.95],[.43,7.93],[.445,7.96],[.455,7.93],[.475,7.96],[.49,7.94],[.52,7.96],[.54,7.93],[.565,7.95],[.57,7.92],[.415,7.87],[.44,7.85],[.45,7.88],[.46,7.86],[.47,7.88],[.48,7.85],[.5,7.87],[.53,7.85],[.55,7.88],[.56,7.85],[.405,7.8],[.42,7.78],[.43,7.81],[.445,7.79],[.46,7.81],[.47,7.78],[.485,7.8],[.495,7.78],[.52,7.81],[.54,7.79],[.55,7.81],[.41,7.72],[.425,7.7],[.445,7.73],[.465,7.71],[.49,7.73],[.51,7.7],[.525,7.72],[.535,7.7],[.545,7.73],[.555,7.7],[.485,7.64],[.495,7.66],[.52,7.63],[.53,7.65],[.54,7.62],[.55,7.65],[.49,7.57],[.525,7.55],[.53,7.58],[.545,7.56],[.44,7.5],[.445,7.52],[.465,7.49],[.47,7.51],[.49,7.5],[.515,7.52],[.52,7.49],[.535,7.5],[.45,7.44],[.48,7.45],[.49,7.43],
[.49,8.72],[.5,8.72],[.505,8.72],[.478,8.7],[.45,8.6],[.465,8.6],[.5,8.58],[.51,8.58],[.48,8.5],[.51,8.52],[.465,8.42],[.47,8.44],[.49,8.42],[.53,8.42],[.44,8.4],[.46,8.33],[.5,8.33],[.515,8.38],[.53,8.36],[.55,8.34],[.43,8.22],[.45,8.24],[.46,8.27],[.51,8.26],[.56,8.26],[.42,8.18],[.44,8.16],[.46,8.18],[.48,8.17],[.43,8.05],[.44,8.02],[.45,8.07],[.46,8.03],[.48,8.05],[.5,8.05],[.53,8.05],[.44,7.95],[.45,7.98],[.46,7.95],[.47,7.94],[.48,7.98],[.5,7.98],[.53,7.98],[.55,7.97],[.43,7.88],[.46,7.9],[.47,7.91],[.49,7.88],[.51,7.9],[.54,7.87],[.44,7.8],[.45,7.78],[.47,7.85],[.48,7.82],[.51,7.85],[.53,7.8],[.47,7.72],[.48,7.75],[.5,7.7],[.52,7.78],[.53,7.74],[.47,7.6],[.51,7.55]];
const puritySmooth=[[.21,8.13],[.3,8.06],[.4,8.01],[.45,7.99],[.5,7.99],[.55,8],[.6,8.03],[.65,8.07],[.7,8.105],[.75,8.12],[.8,8.14],[.85,8.19],[.88,8.22],[.9,8.23],[.93,8.225],[.96,8.2],[.99,8.155]];
const purityUpper=[[.21,8.75],[.3,8.42],[.4,8.19],[.45,8.13],[.5,8.11],[.55,8.11],[.6,8.13],[.65,8.16],[.7,8.19],[.75,8.22],[.8,8.235],[.85,8.28],[.88,8.3],[.9,8.31],[.93,8.3],[.96,8.3],[.99,8.35]];
const purityLower=[[.21,7.52],[.3,7.7],[.4,7.835],[.45,7.87],[.5,7.87],[.55,7.885],[.6,7.92],[.65,7.97],[.7,8.02],[.75,8.03],[.8,8.05],[.85,8.1],[.88,8.13],[.9,8.15],[.93,8.14],[.96,8.09],[.99,7.98]];
const bcellSmooth=[[.023,8.21],[.03,8.19],[.04,8.16],[.05,8.13],[.06,8.11],[.065,8.11],[.07,8.14],[.08,8.18],[.09,8.19],[.095,8.22],[.105,8.22],[.11,8.205],[.12,8.17],[.13,8.1],[.137,8.02]];
const bcellUpper=[[.023,8.465],[.03,8.32],[.04,8.22],[.05,8.21],[.06,8.19],[.065,8.18],[.07,8.22],[.08,8.25],[.09,8.275],[.1,8.3],[.11,8.3],[.12,8.3],[.13,8.36],[.137,8.43]];
const bcellLower=[[.023,7.95],[.03,8.06],[.04,8.085],[.05,8.06],[.06,8.04],[.065,8.04],[.07,8.07],[.08,8.105],[.09,8.12],[.1,8.14],[.11,8.11],[.12,8.035],[.13,7.835],[.137,7.61]];
const cd8Smooth=[[.0848,7.985],[.09,8.05],[.1,8.135],[.11,8.19],[.12,8.21],[.13,8.21],[.14,8.19],[.16,8.155],[.18,8.16],[.19,8.135],[.2,8.105],[.21,8.1],[.22,8.1],[.24,8.12],[.26,8.13],[.3,8.14],[.355,8.13]];
const cd8Upper=[[.0848,8.26],[.1,8.255],[.11,8.275],[.12,8.29],[.13,8.285],[.14,8.27],[.16,8.23],[.18,8.22],[.2,8.19],[.21,8.18],[.22,8.18],[.24,8.19],[.26,8.21],[.28,8.24],[.3,8.33],[.33,8.46],[.355,8.615]];
const cd8Lower=[[.0848,7.71],[.09,7.85],[.1,8.01],[.11,8.105],[.12,8.135],[.13,8.13],[.14,8.105],[.16,8.06],[.18,8.05],[.2,8.025],[.21,8.005],[.22,8.005],[.24,8.035],[.26,8.05],[.28,8.03],[.3,7.96],[.33,7.81],[.355,7.64]];
const cd4Smooth=[[.0959,8.375],[.1,8.32],[.11,8.23],[.115,8.19],[.12,8.18],[.13,8.175],[.14,8.155],[.1445,8.15],[.15,8.19],[.155,8.18],[.16,8.155],[.17,8.125],[.18,8.09],[.19,8.07],[.2,8.05],[.21,8.005],[.22,7.96],[.2305,7.905]];
const cd4Upper=[[.0959,8.645],[.1,8.52],[.11,8.32],[.115,8.25],[.12,8.25],[.13,8.24],[.14,8.22],[.1445,8.21],[.15,8.26],[.155,8.255],[.16,8.22],[.17,8.18],[.18,8.16],[.19,8.155],[.2,8.155],[.21,8.16],[.22,8.22],[.2305,8.31]];
const cd4Lower=[[.0959,8.105],[.1,8.12],[.11,8.125],[.115,8.11],[.12,8.11],[.13,8.105],[.14,8.085],[.1445,8.08],[.15,8.12],[.155,8.105],[.16,8.08],[.17,8.05],[.18,8.02],[.19,7.96],[.2,7.92],[.21,7.85],[.22,7.71],[.2305,7.51]];
const macroSmooth=[[0,8.145],[.01,8.18],[.02,8.2],[.03,8.21],[.04,8.21],[.05,8.2],[.055,8.18],[.06,8.155],[.065,8.13],[.07,8.115],[.08,8.11],[.09,8.125],[.1,8.14],[.11,8.135],[.12,8.11],[.13,8.065],[.142,7.99]];
const macroUpper=[[0,8.4],[.01,8.28],[.02,8.27],[.03,8.28],[.04,8.28],[.05,8.27],[.055,8.25],[.06,8.22],[.065,8.19],[.07,8.175],[.08,8.17],[.09,8.19],[.1,8.21],[.11,8.23],[.12,8.28],[.13,8.345],[.142,8.4]];
const macroLower=[[0,7.88],[.01,8.06],[.02,8.13],[.03,8.14],[.04,8.14],[.05,8.13],[.055,8.1],[.06,8.09],[.065,8.065],[.07,8.05],[.08,8.04],[.09,8.04],[.1,8.05],[.11,8.04],[.12,7.96],[.13,7.775],[.142,7.56]];
const neutroSmooth=[[.0559,8.15],[.06,8.17],[.07,8.21],[.08,8.23],[.09,8.23],[.1,8.19],[.11,8.155],[.115,8.13],[.12,8.13],[.13,8.145],[.14,8.16],[.15,8.165],[.16,8.155],[.17,8.13],[.18,8.1],[.19,8.04],[.2,7.965],[.217,7.87]];
const neutroUpper=[[.0559,8.45],[.06,8.4],[.07,8.31],[.08,8.28],[.09,8.28],[.1,8.245],[.11,8.21],[.115,8.185],[.12,8.185],[.13,8.2],[.14,8.215],[.15,8.23],[.16,8.23],[.17,8.215],[.18,8.2],[.19,8.19],[.2,8.2],[.217,8.22]];
const neutroLower=[[.0559,7.85],[.06,7.94],[.07,8.1],[.08,8.155],[.09,8.16],[.1,8.13],[.11,8.095],[.115,8.07],[.12,8.07],[.13,8.09],[.14,8.1],[.15,8.095],[.16,8.08],[.17,8.04],[.18,7.99],[.19,7.87],[.2,7.73],[.217,7.51]];
const dendSmooth=[[.329,8.06],[.35,8.14],[.37,8.185],[.39,8.22],[.41,8.235],[.43,8.21],[.45,8.14],[.47,8.11],[.485,8.12],[.5,8.155],[.52,8.17],[.55,8.155],[.6,8.12],[.65,8.055],[.687,7.99]];
const dendUpper=[[.329,8.36],[.35,8.31],[.37,8.3],[.39,8.29],[.41,8.3],[.43,8.28],[.45,8.215],[.47,8.18],[.485,8.19],[.5,8.22],[.52,8.235],[.55,8.23],[.6,8.22],[.65,8.35],[.687,8.535]];
const dendLower=[[.329,7.76],[.35,7.97],[.37,8.08],[.39,8.145],[.41,8.15],[.43,8.12],[.45,8.06],[.47,8.035],[.485,8.05],[.5,8.08],[.52,8.09],[.55,8.065],[.6,7.99],[.65,7.73],[.687,7.43]];
const yTicks=[7,8,9], yMinor=[6.5,7.5,8.5,9.5], yRange=[6.34,9.905];
const yTitle='LASS6 Expression Level (log2 TPM)', xTitle='Infiltration Level', facet='OV';
const panels=[
{name:'Purity',pts:purityPoints,sm:puritySmooth,up:purityUpper,lo:purityLower,ticks:[.2,.4,.6,.8,1],minor:[.3,.5,.7,.9],dec:1,note:['cor = 0.115','p = 1.16e-02'],box:[113,558.5,47.5,466],xr:[.1731,1.0286],noteR:553.5,first:true},
{name:'B Cell',pts:bcellPoints,sm:bcellSmooth,up:bcellUpper,lo:bcellLower,ticks:[.05,.1],minor:[.025,.075,.125],dec:2,note:['partial.cor = 0.049','p = 2.79e-01'],box:[574.5,1019.5,47.5,466],xr:[.01841,.14225],noteR:1012.5},
{name:'CD8+ T Cell',pts:cd8Points,sm:cd8Smooth,up:cd8Upper,lo:cd8Lower,ticks:[.1,.2,.3],minor:[.15,.25,.35],dec:1,note:['partial.cor = -0.016','p = 7.23e-01'],box:[1035.7,1481.3,47.5,466],xr:[.0713,.3667],noteR:1473.5},
{name:'CD4+ T Cell',pts:cd4Points,sm:cd4Smooth,up:cd4Upper,lo:cd4Lower,ticks:[.12,.16,.2],minor:[.1,.14,.18,.22],dec:2,note:['partial.cor = -0.041','p = 3.67e-01'],box:[1497,1942.7,47.5,466],xr:[.08925,.23846],noteR:1934},
{name:'Macrophage',pts:macroPoints,sm:macroSmooth,up:macroUpper,lo:macroLower,ticks:[0,.05,.1],minor:[.025,.075,.125],dec:2,note:['partial.cor = -0.025','p = 5.78e-01'],box:[109.8,555.6,574.5,992],xr:[-.0067,.149],noteR:548,first:true},
{name:'Neutrophil',pts:neutroPoints,sm:neutroSmooth,up:neutroUpper,lo:neutroLower,ticks:[.05,.1,.15,.2],minor:[.075,.125,.175],dec:2,note:['partial.cor = -0.022','p = 6.30e-01'],box:[572,1017.7,574.5,992],xr:[.04814,.2241],noteR:1011},
{name:'Dendritic Cell',pts:dendPoints,sm:dendSmooth,up:dendUpper,lo:dendLower,ticks:[.4,.5,.6,.7],minor:[.35,.45,.55,.65],dec:1,note:['partial.cor = 0.002','p = 9.66e-01'],box:[1033.7,1479.7,574.5,992],xr:[.3118,.7041],noteR:1473.5}];
const FONT='"Liberation Sans", Arial, sans-serif';
const grids=[],xAxes=[],yAxes=[],series=[],gfx=[];
panels.forEach((p,i)=>{
 const [L,R,T,B]=p.box, stripLeft=i<4?(i===0?67.3:0):(i===4?64.7:0);
 const stripTop=i<4?1.7:528.5, stripBot=i<4?46:573.4;
 grids.push({left:L,top:T,width:R-L,height:B-T,show:true,backgroundColor:'#fff',borderColor:'#333',borderWidth:1.6,containLabel:false});
 xAxes.push({type:'value',gridIndex:i,min:p.xr[0],max:p.xr[1],axisLine:{show:false},splitLine:{show:false},
  axisTick:{show:true,length:5,customValues:p.ticks,lineStyle:{color:'#333',width:1.5}},
  axisLabel:{show:true,customValues:p.ticks,margin:12,color:'#4d4d4d',fontSize:23,fontFamily:FONT,formatter:v=>v.toFixed(p.dec)}});
 yAxes.push(p.first?{type:'value',gridIndex:i,min:yRange[0],max:yRange[1],offset:L-stripLeft,axisLine:{show:false},splitLine:{show:false},
  axisTick:{show:true,length:5,customValues:yTicks,lineStyle:{color:'#333',width:1.5}},
  axisLabel:{show:true,customValues:yTicks,margin:8,color:'#4d4d4d',fontSize:23,fontFamily:FONT,formatter:v=>String(v)},
  name:yTitle,nameLocation:'middle',nameGap:36,nameTextStyle:{color:'#000',fontSize:29.5,fontFamily:FONT}}
  :{type:'value',gridIndex:i,min:yRange[0],max:yRange[1],axisLine:{show:false},axisTick:{show:false},axisLabel:{show:false},splitLine:{show:false}});
 const rules=[];
 p.ticks.forEach(v=>rules.push([v,yRange[0],v,yRange[1],2]));
 p.minor.forEach(v=>rules.push([v,yRange[0],v,yRange[1],1.1]));
 yTicks.forEach(v=>rules.push([p.xr[0],v,p.xr[1],v,2]));
 yMinor.forEach(v=>rules.push([p.xr[0],v,p.xr[1],v,1.1]));
 series.push({type:'custom',xAxisIndex:i,yAxisIndex:i,z:1,silent:true,data:rules,encode:{x:[0,2],y:[1,3]},
  renderItem:(ps,api)=>{const a=api.coord([api.value(0),api.value(1)]),b=api.coord([api.value(2),api.value(3)]);
   return {type:'line',shape:{x1:a[0],y1:a[1],x2:b[0],y2:b[1]},style:{stroke:'#ebebeb',lineWidth:api.value(4)}};}});
 series.push({type:'scatter',name:p.name,xAxisIndex:i,yAxisIndex:i,z:2,data:p.pts,symbolSize:13.5,itemStyle:{color:'#333333',opacity:1},silent:true});
 const poly=p.up.concat(p.lo.slice().reverse());
 series.push({type:'custom',xAxisIndex:i,yAxisIndex:i,z:3,silent:true,data:poly,encode:{x:0,y:1},
  renderItem:(ps,api)=>ps.dataIndex?null:{type:'polygon',shape:{points:poly.map(q=>api.coord(q))},style:{fill:'rgba(153,153,153,0.4)'}}});
 series.push({type:'line',xAxisIndex:i,yAxisIndex:i,z:4,silent:true,data:p.sm,showSymbol:false,smooth:.25,lineStyle:{color:'#3366FF',width:5}});
 gfx.push({type:'rect',z:20,shape:{x:L,y:stripTop,width:R-L,height:stripBot-stripTop},style:{fill:'#d9d9d9',stroke:'#333',lineWidth:1.6}});
 gfx.push({type:'text',z:21,x:(L+R)/2,y:(stripTop+stripBot)/2+1.5,style:{text:p.name,fill:'#1a1a1a',font:'23.5px '+FONT,align:'center',verticalAlign:'middle'}});
 if(p.first){
  gfx.push({type:'rect',z:20,shape:{x:stripLeft,y:T,width:L-stripLeft,height:B-T},style:{fill:'#d9d9d9',stroke:'#333',lineWidth:1.6}});
  gfx.push({type:'text',z:21,x:(L+stripLeft)/2,y:(T+B)/2,rotation:Math.PI/2,style:{text:facet,fill:'#1a1a1a',font:'23.5px '+FONT,align:'center',verticalAlign:'middle'}});
 }
 const y0=i<4?71:599, y1=i<4?99:627.5;
 gfx.push({type:'text',z:22,x:p.noteR,y:y0,style:{text:p.note[0],fill:'#e00000',font:'29.8px '+FONT,align:'right',verticalAlign:'middle'}});
 gfx.push({type:'text',z:22,x:p.noteR,y:y1,style:{text:p.note[1],fill:'#e00000',font:'29.8px '+FONT,align:'right',verticalAlign:'middle'}});
});
gfx.push({type:'text',z:22,x:979,y:1065,style:{text:xTitle,fill:'#000',font:'30.5px '+FONT,align:'center',verticalAlign:'middle'}});
echarts.init(document.getElementById('c')).setOption({animation:false,backgroundColor:'#fff',grid:grids,xAxis:xAxes,yAxis:yAxes,series,graphic:{elements:gfx}});
</script></body></html>
